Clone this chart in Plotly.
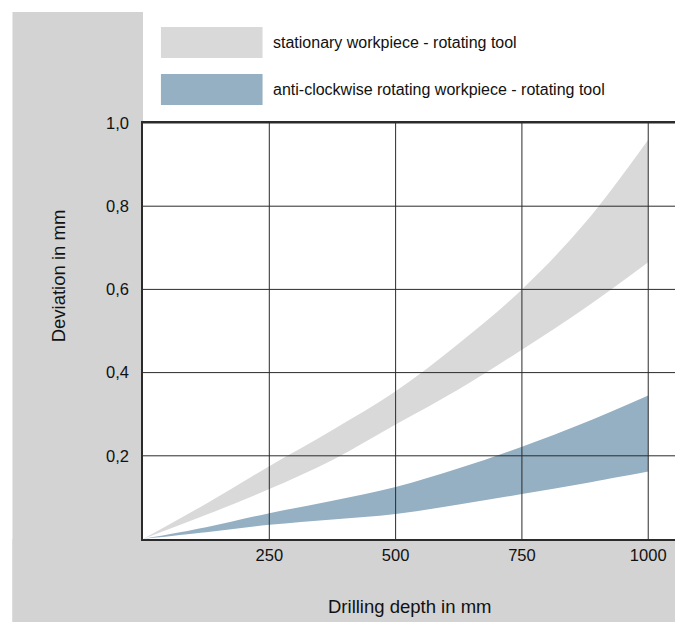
import plotly.graph_objects as go

# Data
depth = [0, 125, 250, 375, 500, 625, 750, 875, 1000]
stationary_upper = [0, 0.085, 0.175, 0.262, 0.355, 0.47, 0.60, 0.76, 0.96]
stationary_lower = [0, 0.058, 0.12, 0.19, 0.275, 0.36, 0.455, 0.555, 0.665]
rotating_upper = [0, 0.028, 0.062, 0.092, 0.125, 0.17, 0.222, 0.28, 0.345]
rotating_lower = [0, 0.016, 0.034, 0.047, 0.06, 0.083, 0.108, 0.134, 0.162]

x_ticks = [250, 500, 750, 1000]
y_ticks = [0.2, 0.4, 0.6, 0.8, 1.0]
y_ticklabels = ["0,2", "0,4", "0,6", "0,8", "1,0"]

legend_labels = ["stationary workpiece - rotating tool",
                 "anti-clockwise rotating workpiece - rotating tool"]

GRAY_BAND = "#d9d9d9"
BLUE_BAND = "#94b0c2"
PANEL = "#d3d3d3"
GRID = "#2b2b2b"
FONT = "Liberation Sans, Arial, sans-serif"

fig = go.Figure()
fig.add_trace(go.Scatter(x=depth, y=stationary_lower, mode="lines", line=dict(width=0, color=GRAY_BAND),
                         showlegend=False, hoverinfo="skip", line_shape="spline"))
fig.add_trace(go.Scatter(x=depth, y=stationary_upper, mode="lines", line=dict(width=0, color=GRAY_BAND),
                         fill="tonexty", fillcolor=GRAY_BAND, showlegend=False, line_shape="spline",
                         name=legend_labels[0]))
fig.add_trace(go.Scatter(x=depth, y=rotating_lower, mode="lines", line=dict(width=0, color=BLUE_BAND),
                         showlegend=False, hoverinfo="skip", line_shape="spline"))
fig.add_trace(go.Scatter(x=depth, y=rotating_upper, mode="lines", line=dict(width=0, color=BLUE_BAND),
                         fill="tonexty", fillcolor=BLUE_BAND, showlegend=False, line_shape="spline",
                         name=legend_labels[1]))

# Page has an 8px body margin; work in screen pixels and convert
OFF = 8
W, H = 683 - OFF, 622 - OFF
PL, PR, PT, PB = 143, 677, 123, 539   # plot area in screen pixels
L, T = PL - OFF, PT - OFF
R = W - (PR - OFF)
B = H - (PB - OFF)
pw, ph = W - L - R, H - T - B

def px(xs):
    return (xs - PL) / pw

def py(ys):
    return (PB - ys) / ph

shapes = []
# gray L-shaped panel
shapes.append(dict(type="rect", xref="paper", yref="paper", x0=px(12), x1=0, y0=py(640), y1=py(12),
                   fillcolor=PANEL, line=dict(width=0), layer="below"))
shapes.append(dict(type="rect", xref="paper", yref="paper", x0=px(12), x1=1, y0=py(640), y1=0,
                   fillcolor=PANEL, line=dict(width=0), layer="below"))
# gridlines above the bands
for xv in x_ticks:
    shapes.append(dict(type="line", xref="x", yref="paper", x0=xv, x1=xv, y0=0, y1=1,
                       line=dict(color=GRID, width=1), layer="above"))
for yv in y_ticks:
    shapes.append(dict(type="line", xref="paper", yref="y", x0=0, x1=1, y0=yv, y1=yv,
                       line=dict(color=GRID, width=1), layer="above"))
# legend swatches
shapes.append(dict(type="rect", xref="paper", yref="paper", x0=px(161), x1=px(263), y0=py(58), y1=py(27),
                   fillcolor=GRAY_BAND, line=dict(width=0)))
shapes.append(dict(type="rect", xref="paper", yref="paper", x0=px(161), x1=px(263), y0=py(105), y1=py(74),
                   fillcolor=BLUE_BAND, line=dict(width=0)))

annotations = [
    dict(text=legend_labels[0], xref="paper", yref="paper", x=px(271), y=py(42.5), xanchor="left",
         yanchor="middle", showarrow=False, font=dict(size=16, color="#111111", family=FONT)),
    dict(text=legend_labels[1], xref="paper", yref="paper", x=px(271), y=py(89.5), xanchor="left",
         yanchor="middle", showarrow=False, font=dict(size=16, color="#111111", family=FONT)),
    dict(text="Drilling depth in mm", xref="paper", yref="paper", x=px(410), y=py(606), xanchor="center",
         yanchor="middle", showarrow=False, font=dict(size=18.5, color="#111111", family=FONT)),
    dict(text="Deviation in mm", xref="paper", yref="paper", x=px(58), y=py(276), xanchor="center",
         yanchor="middle", textangle=-90, showarrow=False, font=dict(size=18.5, color="#111111", family=FONT)),
]

fig.update_layout(
    width=W, height=H,
    margin=dict(l=L, r=R, t=T, b=B, pad=0),
    paper_bgcolor="white", plot_bgcolor="white",
    font=dict(family=FONT, size=16.5, color="#111111"),
    shapes=shapes, annotations=annotations,
    showlegend=False,
    xaxis=dict(range=[0, 1053], tickvals=x_ticks, ticks="", showgrid=False, zeroline=False,
               showline=True, mirror=True, linecolor=GRID, linewidth=1.5,
               tickfont=dict(size=16.5), fixedrange=True),
    yaxis=dict(range=[0, 1.0], tickvals=y_ticks, ticktext=y_ticklabels, ticks="", showgrid=False,
               zeroline=False, showline=True, mirror=True, linecolor=GRID, linewidth=1.5,
               tickfont=dict(size=16.5), ticklabelstandoff=9, fixedrange=True),
)

fig.write_html("out.html")
